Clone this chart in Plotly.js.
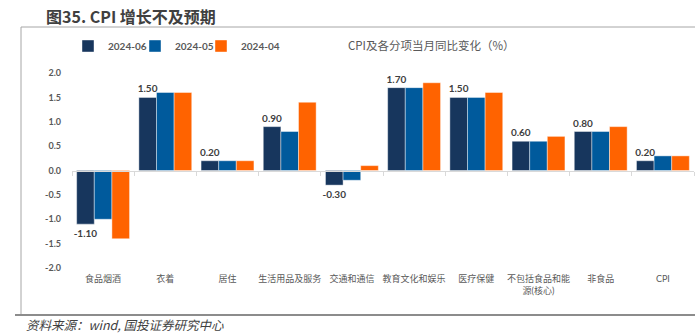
<!DOCTYPE html>
<html>
<head>
<meta charset="utf-8">
<script src="https://cdn.plot.ly/plotly-3.0.1.min.js"></script>
<style>
html,body{margin:0;padding:0;background:#fff;}
#chart{width:695px;height:336px;}
</style>
</head>
<body>
<div id="chart"></div>
<script>
const categories = ["食品烟酒","衣着","居住","生活用品及服务","交通和通信","教育文化和娱乐","医疗保健","不包括食品和能<br>源(核心)","非食品","CPI"];
const seriesNames = ["2024-06","2024-05","2024-04"];
const jun = [-1.10, 1.50, 0.20, 0.90, -0.30, 1.70, 1.50, 0.60, 0.80, 0.20];
const may = [-1.0, 1.6, 0.2, 0.8, -0.2, 1.7, 1.5, 0.6, 0.8, 0.3];
const apr = [-1.4, 1.6, 0.2, 1.4, 0.1, 1.8, 1.6, 0.7, 0.9, 0.3];
const yTicks = [-2.0,-1.5,-1.0,-0.5,0.0,0.5,1.0,1.5,2.0];

const colors = ["#17365D","#005A9C","#FF6300"];
const FONT = 'Lato, "Noto Sans CJK SC", sans-serif';
const idx = categories.map((c,i)=>i);
const legendIds = ['legend','legend2','legend3'];

const traces = [jun, may, apr].map((vals, k) => ({
  type: 'bar',
  name: seriesNames[k],
  legend: legendIds[k],
  x: idx,
  y: vals,
  marker: {color: colors[k], line: {color: 'rgba(255,255,255,0.7)', width: 0.6}},
  text: k === 0 ? vals.map(v => v.toFixed(2)) : undefined,
  textposition: k === 0 ? 'outside' : 'none',
  constraintext: 'none',
  textfont: {family: FONT, size: 10, color: '#404040', weight: 'bold'},
  cliponaxis: false,
  hoverinfo: 'x+y'
}));
// invisible helper trace for the zero axis with boundary ticks
traces.push({type:'scatter', x: idx, y: idx.map(()=>0), xaxis:'x2', mode:'markers', marker:{opacity:0}, showlegend:false, hoverinfo:'skip'});

// plot area: left 72, right 694, top 73, bottom 268
const L = 72, R = 1, T = 73, B = 68;
const W = 695 - L - R, H = 336 - T - B;
const px = x => (x - L) / W;
const py = y => (336 - B - y) / H;

const legendBase = {orientation: 'h', yanchor: 'middle', xanchor: 'left', y: py(46),
  font: {family: FONT, size: 10, color: '#595959', weight: 'bold'}, itemwidth: 30,
  bgcolor: 'rgba(0,0,0,0)'};

const layout = {
  width: 695, height: 336,
  margin: {l: L, r: R, t: T, b: B},
  paper_bgcolor: '#fff', plot_bgcolor: '#fff',
  barmode: 'group', bargap: 0.15, bargroupgap: 0,
  showlegend: true,
  legend: Object.assign({}, legendBase, {x: px(68)}),
  legend2: Object.assign({}, legendBase, {x: px(135)}),
  legend3: Object.assign({}, legendBase, {x: px(201)}),
  xaxis: {range: [-0.5, 9.5], tickvals: idx, ticktext: categories, showline: false, ticks: '',
    zeroline: false, showgrid: false, fixedrange: true,
    tickfont: {family: FONT, size: 9, color: '#595959'}, ticklabelstandoff: 4},
  xaxis2: {overlaying: 'x', anchor: 'free', position: 0.5, range: [-0.5, 9.5],
    tickvals: idx.map(i => i - 0.5).concat([9.5]), showticklabels: false, ticks: 'outside',
    ticklen: 4, tickcolor: '#d9d9d9', showline: true, linecolor: '#d9d9d9', linewidth: 1,
    showgrid: false, zeroline: false},
  yaxis: {range: [-2, 2], tickvals: yTicks, ticktext: yTicks.map(v => v.toFixed(1)),
    showgrid: false, zeroline: false, showline: false, ticks: '',
    tickfont: {family: FONT, size: 9, color: '#595959', weight: 'bold'}, ticklabelstandoff: 10},
  shapes: [
    {type: 'line', xref: 'paper', yref: 'paper', x0: px(21), x1: px(695), y0: py(27), y1: py(27), line: {color: '#a6a6a6', width: 1}},
    {type: 'line', xref: 'paper', yref: 'paper', x0: px(21), x1: px(21), y0: py(27), y1: py(315), line: {color: '#a6a6a6', width: 1}},
    {type: 'line', xref: 'paper', yref: 'paper', x0: px(15), x1: px(695), y0: py(315), y1: py(315), line: {color: '#8c8c8c', width: 2}}
  ],
  annotations: [
    {text: '<b>图35. CPI 增长不及预期</b>', xref: 'paper', yref: 'paper', x: px(44), y: py(16),
      xanchor: 'left', yanchor: 'middle', showarrow: false,
      font: {family: '"Noto Sans CJK SC", sans-serif', size: 16, color: '#404040'}},
    {text: 'CPI及各分项当月同比变化（%）', xref: 'paper', yref: 'paper', x: px(431), y: py(45),
      xanchor: 'center', yanchor: 'middle', showarrow: false,
      font: {family: '"Noto Sans CJK SC", sans-serif', size: 11.5, color: '#595959'}},
    {text: '<i>资料来源：wind, 国投证券研究中心</i>', xref: 'paper', yref: 'paper', x: px(24), y: py(324),
      xanchor: 'left', yanchor: 'middle', showarrow: false,
      font: {family: '"Noto Sans CJK SC", sans-serif', size: 12.5, color: '#404040'}}
  ]
};

Plotly.newPlot('chart', traces, layout, {displayModeBar: false, staticPlot: true});
</script>
</body>
</html>
